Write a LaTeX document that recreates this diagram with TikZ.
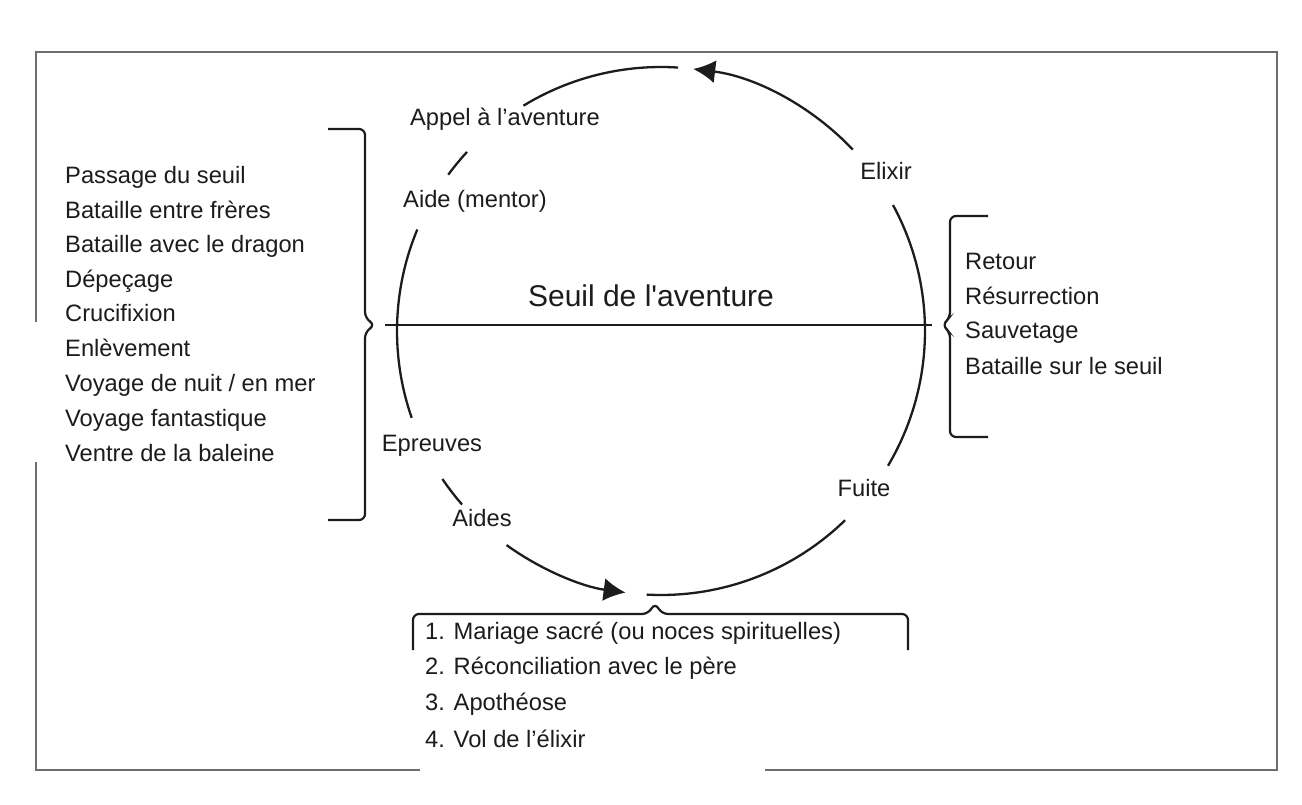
\documentclass[tikz,border=0pt]{standalone}
\usepackage{fontspec}
\setmainfont{Liberation Sans}
\usetikzlibrary{arrows.meta}
\definecolor{ink}{HTML}{1C1C1C}
\definecolor{framecol}{HTML}{6E6E6E}
\begin{document}
\begin{tikzpicture}[x=1pt,y=-1pt,
  lbl/.style={inner sep=0pt, text=ink, font=\fontsize{23.7}{28}\selectfont},
  big/.style={inner sep=0pt, text=ink, font=\fontsize{30}{36}\selectfont},
  lst/.style={lbl, anchor=mid west},
  ring/.style={draw=ink, line width=2.3pt},
  tipped/.style={ring, -{Latex[length=22pt,width=23pt]}},
  bracket/.style={draw=ink, line width=2.2pt, rounded corners=6pt},
  frameline/.style={draw=framecol, line width=2.5pt}]
\useasboundingbox (0,0) rectangle (1302,805);
\fill[white] (0,0) rectangle (1302,805);
% outer frame
\draw[frameline] (36,322) -- (36,52) -- (1277,52) -- (1277,770) -- (765,770);
\draw[frameline] (420,770) -- (36,770) -- (36,462);
% circle centre
\coordinate (C) at (661,331);
% labels on the ring
\node[lbl] (appel) at (505,119) {Appel à l’aventure};
\node[lbl] (aide) at (475,201) {Aide (mentor)};
\node[lbl] (epreuves) at (432,446) {Epreuves};
\node[lbl] (aides) at (482,518) {Aides};
\node[lbl] (fuite) at (864,488) {Fuite};
\node[lbl] (elixir) at (886,171) {Elixir};
\node[big] (seuil) at (651,296) {Seuil de l\textquotesingle aventure};
% ring arcs
\coordinate (a1) at ([shift={(238.6:264)}]C);
\draw[ring] (a1) arc[start angle=238.6, end angle=273.7, radius=264];
\coordinate (a2) at ([shift={(316.6:264)}]C);
\draw[tipped] (a2) arc[start angle=316.6, end angle=277, radius=264];
\coordinate (a3) at ([shift={(-28.5:264)}]C);
\draw[ring] (a3) arc[start angle=-28.5, end angle=30.7, radius=264];
\coordinate (a4) at ([shift={(45.8:264)}]C);
\draw[ring] (a4) arc[start angle=45.8, end angle=93.1, radius=264];
\coordinate (a5) at ([shift={(125.8:264)}]C);
\draw[tipped] (a5) arc[start angle=125.8, end angle=97.7, radius=264];
\coordinate (a6) at ([shift={(145.9:264)}]C);
\draw[ring] (a6) arc[start angle=145.9, end angle=138.9, radius=264];
\coordinate (a7) at ([shift={(202.6:264)}]C);
\draw[ring] (a7) arc[start angle=202.6, end angle=160.8, radius=264];
\coordinate (a8) at ([shift={(222.7:264)}]C);
\draw[ring] (a8) arc[start angle=222.7, end angle=216.3, radius=264];
% threshold line
\coordinate (thL) at (385,325);
\coordinate (thR) at (932,325);
\draw[draw=ink, line width=2pt] (thL) -- (thR);
% brackets
\draw[bracket] (328,129) -- (365,129) -- (365,318) -- (375,325) -- (365,332) -- (365,520) -- (328,520);
\draw[bracket] (988,216) -- (950,216) -- (950,318) -- (942,325) -- (950,332) -- (950,437) -- (988,437);
\draw[bracket] (413,650) -- (413,614) -- (648,614) -- (655,603) -- (662,614) -- (908,614) -- (908,650);
% left list
\node[lst] (l1) at (65,181) {Passage du seuil};
\node[lst] (l2) at (65,216) {Bataille entre frères};
\node[lst] (l3) at (65,250) {Bataille avec le dragon};
\node[lst] (l4) at (65,285) {Dépeçage};
\node[lst] (l5) at (65,319) {Crucifixion};
\node[lst] (l6) at (65,354) {Enlèvement};
\node[lst] (l7) at (65,389) {Voyage de nuit / en mer};
\node[lst] (l8) at (65,424) {Voyage fantastique};
\node[lst] (l9) at (65,459) {Ventre de la baleine};
% right list
\node[lst] (r1) at (965,267) {Retour};
\node[lst] (r2) at (965,302) {Résurrection};
\node[lst] (r3) at (965,336) {Sauvetage};
\node[lst] (r4) at (965,372) {Bataille sur le seuil};
% bottom list
\node[lst] (b1) at (425,637) {1. Mariage sacré (ou noces spirituelles)};
\node[lst] (b2) at (425,672) {2. Réconciliation avec le père};
\node[lst] (b3) at (425,708) {3. Apothéose};
\node[lst] (b4) at (425,745) {4. Vol de l’élixir};
\end{tikzpicture}
\end{document}
